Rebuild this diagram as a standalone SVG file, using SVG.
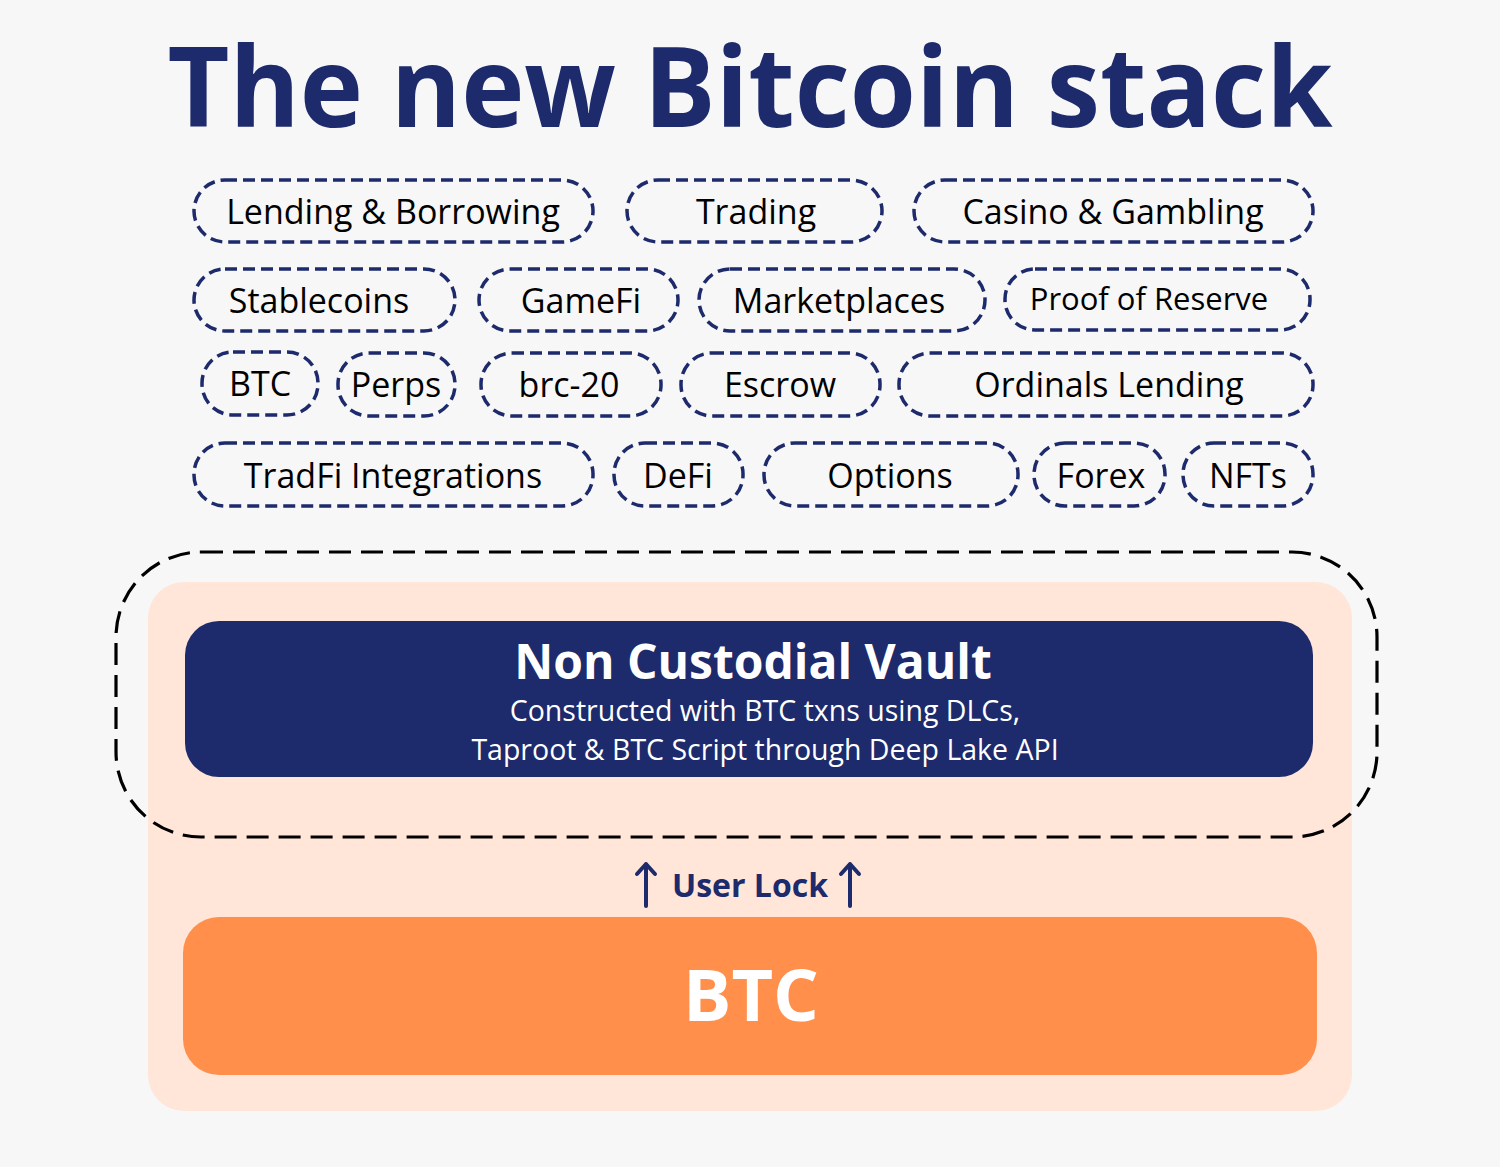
<svg xmlns="http://www.w3.org/2000/svg" width="1500" height="1167" viewBox="0 0 1500 1167">
<style>
.pill{fill:none;stroke:#1d2a6b;stroke-width:3.5;stroke-dasharray:12 6}
.pt{font-family:"Open Sans","Noto Sans",sans-serif;font-size:34px;fill:#000;text-anchor:middle}
.title{font-family:"Open Sans","Noto Sans",sans-serif;font-weight:bold;font-size:111px;fill:#1d2a6b;text-anchor:middle}
.w{font-family:"Open Sans","Noto Sans",sans-serif;fill:#fff;text-anchor:middle}
</style>
<rect x="0" y="0" width="1500" height="1167" fill="#f7f7f7"/>
<text class="title" x="750" y="127" textLength="1165" lengthAdjust="spacingAndGlyphs">The new Bitcoin stack</text>

<g id="n-lending"><rect class="pill" x="194" y="180" width="399" height="62" rx="31"/><text class="pt" x="393" y="224">Lending &amp; Borrowing</text></g>
<g id="n-trading"><rect class="pill" x="627" y="180" width="255" height="62" rx="31"/><text class="pt" x="756" y="224">Trading</text></g>
<g id="n-casino"><rect class="pill" x="914" y="180" width="399" height="62" rx="31"/><text class="pt" x="1113" y="224">Casino &amp; Gambling</text></g>

<g id="n-stablecoins"><rect class="pill" x="194" y="269" width="261" height="62" rx="31"/><text class="pt" x="319" y="313">Stablecoins</text></g>
<g id="n-gamefi"><rect class="pill" x="479" y="269" width="199" height="62" rx="31"/><text class="pt" x="581" y="313">GameFi</text></g>
<g id="n-marketplaces"><rect class="pill" x="699" y="269" width="286" height="62" rx="31"/><text class="pt" x="839" y="313">Marketplaces</text></g>
<g id="n-por"><rect class="pill" x="1005" y="269" width="305" height="61" rx="30"/><text class="pt" x="1149" y="310" style="font-size:31px">Proof of Reserve</text></g>

<g id="n-btc-small"><rect class="pill" x="202" y="352" width="116" height="63" rx="31"/><text class="pt" x="260" y="396">BTC</text></g>
<g id="n-perps"><rect class="pill" x="338" y="353" width="117" height="63" rx="31"/><text class="pt" x="396" y="397">Perps</text></g>
<g id="n-brc20"><rect class="pill" x="481" y="353" width="180" height="63" rx="31"/><text class="pt" x="569" y="397">brc-20</text></g>
<g id="n-escrow"><rect class="pill" x="681" y="353" width="199" height="63" rx="31"/><text class="pt" x="780" y="397">Escrow</text></g>
<g id="n-ordinals"><rect class="pill" x="899" y="353" width="414" height="63" rx="31"/><text class="pt" x="1109" y="397">Ordinals Lending</text></g>

<g id="n-tradfi"><rect class="pill" x="194" y="443" width="399" height="63" rx="31"/><text class="pt" x="393" y="488">TradFi Integrations</text></g>
<g id="n-defi"><rect class="pill" x="614" y="443" width="129" height="63" rx="31"/><text class="pt" x="678" y="488">DeFi</text></g>
<g id="n-options"><rect class="pill" x="764" y="443" width="254" height="63" rx="31"/><text class="pt" x="890" y="488">Options</text></g>
<g id="n-forex"><rect class="pill" x="1034" y="443" width="131" height="63" rx="31"/><text class="pt" x="1101" y="488">Forex</text></g>
<g id="n-nfts"><rect class="pill" x="1183" y="443" width="130" height="63" rx="31"/><text class="pt" x="1248" y="488">NFTs</text></g>

<g id="n-base">
<rect x="148" y="582" width="1204" height="529" rx="36" fill="#ffe6d9"/>
</g>
<g id="n-vault">
<rect x="185" y="621" width="1128" height="156" rx="34" fill="#1d2a6b"/>
<text class="w" x="753" y="679" font-size="48" font-weight="bold">Non Custodial Vault</text>
<text class="w" x="765" y="721" font-size="28.5">Constructed with BTC txns using DLCs,</text>
<text class="w" x="765" y="760" font-size="28.5">Taproot &amp; BTC Script through Deep Lake API</text>
</g>
<g id="n-vault-frame">
<rect x="116" y="552" width="1261" height="285" rx="85" fill="none" stroke="#000" stroke-width="3.2" stroke-dasharray="22 10"/>
</g>
<g id="n-btc">
<rect x="183" y="917" width="1134" height="158" rx="36" fill="#ff8f4a"/>
<text class="w" x="751" y="1021" font-size="72" font-weight="bold">BTC</text>
</g>

<g id="connectors" stroke="#1d2a6b" stroke-width="4" fill="none" stroke-linecap="round" stroke-linejoin="round">
<path d="M646 906V864M637 874L646 864L655 874"/>
<path d="M850 906V864M841 874L850 864L859 874"/>
</g>
<text x="750" y="897" font-family="'Open Sans','Noto Sans',sans-serif" font-size="32" font-weight="bold" fill="#1d2a6b" text-anchor="middle">User Lock</text>
</svg>
